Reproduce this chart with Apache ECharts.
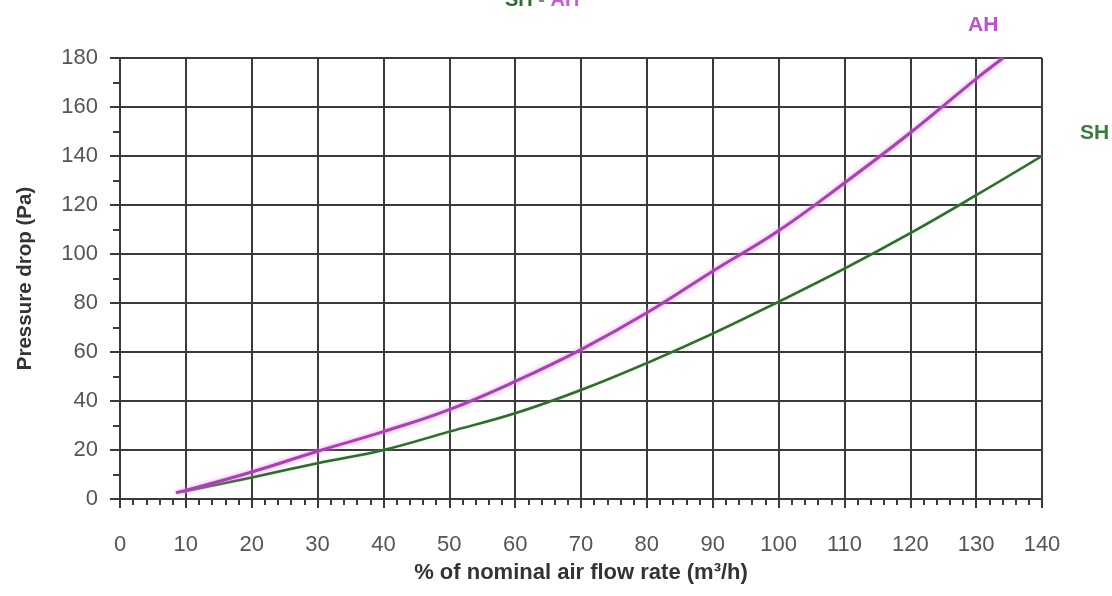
<!DOCTYPE html>
<html>
<head>
<meta charset="utf-8">
<script src="https://cdn.jsdelivr.net/npm/echarts@6/dist/echarts.min.js"></script>
<style>
html,body{margin:0;padding:0;background:#fff;}
#chart{width:1112px;height:596px;}
</style>
</head>
<body>
<div id="chart"></div>
<script>
const xTicks = [0,10,20,30,40,50,60,70,80,90,100,110,120,130,140];
const yTicks = [0,20,40,60,80,100,120,140,160,180];
const ahFlow = [8.5,10,20,30,40,50,60,70,80,90,100,110,120,130,134.1];
const ahPressure = [2.6,3.5,11,19.5,27.5,36.5,48,61,76,93,109.5,129,149.5,171.5,180];
const shFlow = [8.5,10,20,30,40,50,60,70,80,90,100,110,120,130,140];
const shPressure = [2.6,3.3,8.8,14.6,20,27.5,35,44.5,55.5,67.5,80.5,94,108.5,124,140];

const FONT = '"Liberation Sans", Arial, sans-serif';
const GRID = '#3a3a3a';
const MAGENTA = '#a940b5';
const GREEN = '#2f6a2f';

const chart = echarts.init(document.getElementById('chart'), null, {renderer:'canvas'});
chart.setOption({
  animation:false,
  backgroundColor:'#ffffff',
  grid:{left:120,right:70,top:58,bottom:97,containLabel:false,outerBoundsMode:'none'},
  title:{
    text:'{g|SH} {d|-} {m|AH}',
    left:500, top:-15,
    textStyle:{
      fontFamily:FONT,fontSize:20,fontWeight:'bold',
      rich:{
        g:{color:GREEN,fontFamily:FONT,fontSize:20,fontWeight:'bold'},
        d:{color:'#888',fontFamily:FONT,fontSize:20,fontWeight:'bold'},
        m:{color:'#c060d0',fontFamily:FONT,fontSize:20,fontWeight:'bold'}
      }
    }
  },
  xAxis:{
    type:'value',min:xTicks[0],max:xTicks[xTicks.length-1],interval:10,
    name:'% of nominal air flow rate (m³/h)',
    nameLocation:'middle',nameGap:63,
    nameTextStyle:{fontFamily:FONT,fontSize:22,fontWeight:'bold',color:'#333'},
    axisLine:{show:true,onZero:false,lineStyle:{color:GRID,width:2}},
    axisTick:{show:true,length:9,lineStyle:{color:GRID,width:2}},
    minorTick:{show:true,splitNumber:5,length:6,lineStyle:{color:GRID,width:2}},
    axisLabel:{margin:35,fontFamily:FONT,fontSize:22,color:'#555'},
    splitLine:{show:true,lineStyle:{color:GRID,width:2}}
  },
  yAxis:{
    type:'value',min:yTicks[0],max:yTicks[yTicks.length-1],interval:20,
    name:'Pressure drop (Pa)',
    nameLocation:'middle',nameGap:84,nameRotate:90,
    nameTextStyle:{fontFamily:FONT,fontSize:20.5,fontWeight:'bold',color:'#333'},
    axisLine:{show:true,lineStyle:{color:GRID,width:2}},
    axisTick:{show:true,length:10,lineStyle:{color:GRID,width:2}},
    minorTick:{show:true,splitNumber:2,length:7,lineStyle:{color:GRID,width:2}},
    axisLabel:{margin:22,fontFamily:FONT,fontSize:22,color:'#555'},
    splitLine:{show:true,lineStyle:{color:GRID,width:2}}
  },
  series:[
    {
      name:'AH',type:'line',smooth:0.4,symbol:'none',
      data:ahFlow.map((x,i)=>[x,ahPressure[i]]),
      lineStyle:{color:MAGENTA,width:3,shadowColor:'rgba(240,130,240,0.9)',shadowBlur:4},
      z:3
    },
    {
      name:'SH',type:'line',smooth:0.4,symbol:'none',
      data:shFlow.map((x,i)=>[x,shPressure[i]]),
      lineStyle:{color:GREEN,width:2.5,shadowColor:'rgba(140,220,140,0.6)',shadowBlur:2},
      z:2
    }
  ],
  graphic:[
    {type:'text',left:968,top:15,style:{text:'AH',fill:'#c050d0',font:'bold 21px '+FONT}},
    {type:'text',left:1080,top:123,style:{text:'SH',fill:'#3a7a3a',font:'bold 21px '+FONT}}
  ]
});
</script>
</body>
</html>
